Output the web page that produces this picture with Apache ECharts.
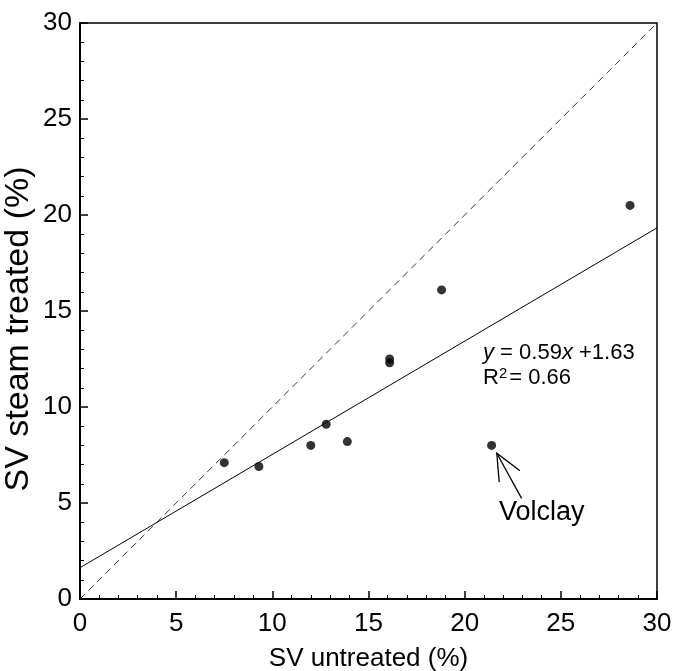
<!DOCTYPE html>
<html>
<head>
<meta charset="utf-8">
<script src="https://cdn.jsdelivr.net/npm/echarts@6/dist/echarts.min.js"></script>
<style>
  html, body { margin: 0; padding: 0; background: #fff; }
  #chart { width: 673px; height: 671px; }
</style>
</head>
<body>
<div id="chart"></div>
<script>
// measured values (SV untreated %, SV steam treated %)
var untreated = [7.5, 9.3, 12.0, 12.8, 13.9, 16.1, 16.1, 18.8, 28.6];
var steamTreated = [7.1, 6.9, 8.0, 9.1, 8.2, 12.5, 12.3, 16.1, 20.5];
var volclay = [21.4, 8.0];
var axisTicks = [0, 5, 10, 15, 20, 25, 30];
var fitSlope = 0.59;
var fitIntercept = 1.63;
// arrow pointing to Volclay: tail then tip
var arrowTail = [22.96, 5.24];
var arrowTip = [21.67, 7.59];

var font = 'Liberation Sans';

var points = untreated.map(function (x, i) { return [x, steamTreated[i]]; });
points.push(volclay);

var xMin = axisTicks[0], xMax = axisTicks[axisTicks.length - 1];
var fitLine = [[xMin, fitIntercept], [xMax, fitSlope * xMax + fitIntercept]];
var identity = [[xMin, xMin], [xMax, xMax]];

var myChart = echarts.init(document.getElementById('chart'));

function axisCommon(name) {
    return {
        type: 'value',
        min: xMin,
        max: xMax,
        interval: 5,
        name: name,
        nameLocation: 'middle',
        nameMoveOverlap: false,
        nameTextStyle: { fontFamily: font, fontSize: 26, color: '#000' },
        axisLine: { show: true, onZero: false, lineStyle: { color: '#000', width: 2 } },
        axisTick: { show: true, inside: true, length: 8, lineStyle: { color: '#000', width: 1.5 } },
        minorTick: { show: true, splitNumber: 5, length: 4, lineStyle: { color: '#000', width: 1 } },
        splitLine: { show: false },
        minorSplitLine: { show: false },
        axisLabel: { fontFamily: font, fontSize: 26, color: '#000' }
    };
}

var xAxis = axisCommon('SV untreated (%)');
xAxis.nameGap = 47;
xAxis.axisLabel.margin = 12;

var yAxis = axisCommon('SV steam treated (%)');
yAxis.nameGap = 44;
yAxis.nameTextStyle.fontSize = 34;
yAxis.nameTextStyle.padding = [0, 36, 0, 0];
yAxis.axisLabel.margin = 8;

var option = {
    animation: false,
    grid: {
        left: 80, right: 16, top: 23, bottom: 72,
        outerBoundsMode: 'none',
        containLabel: false,
        show: true, borderColor: '#000', borderWidth: 1.5, backgroundColor: 'transparent'
    },
    xAxis: xAxis,
    yAxis: yAxis,
    series: [
        {
            type: 'line',
            data: identity,
            symbol: 'none',
            lineStyle: { color: '#333', width: 1, type: [7, 5] },
            z: 1
        },
        {
            type: 'line',
            data: fitLine,
            symbol: 'none',
            lineStyle: { color: '#000', width: 1 },
            z: 1
        },
        {
            type: 'scatter',
            data: points,
            symbol: 'circle',
            symbolSize: 9,
            itemStyle: { color: '#000' },
            z: 3
        },
        {
            type: 'custom',
            data: [[arrowTail[0], arrowTail[1], arrowTip[0], arrowTip[1]]],
            renderItem: function (params, api) {
                var tail = api.coord([api.value(0), api.value(1)]);
                var tip = api.coord([api.value(2), api.value(3)]);
                var ang = Math.atan2(tail[1] - tip[1], tail[0] - tip[0]);
                var wing = 29, spread = 24 * Math.PI / 180;
                var w1 = [tip[0] + wing * Math.cos(ang - spread), tip[1] + wing * Math.sin(ang - spread)];
                var w2 = [tip[0] + wing * Math.cos(ang + spread), tip[1] + wing * Math.sin(ang + spread)];
                var st = { stroke: '#000', lineWidth: 1.3, fill: null };
                return {
                    type: 'group',
                    children: [
                        { type: 'polyline', shape: { points: [tail, tip] }, style: st },
                        { type: 'polyline', shape: { points: [w1, tip, w2] }, style: st }
                    ]
                };
            },
            z: 2
        }
    ],
    graphic: [
        {
            type: 'text',
            left: 483, top: 342,
            style: {
                text: '{i|y} = 0.59{i|x} +1.63',
                fontFamily: font, fontSize: 22, fill: '#000',
                rich: {
                    i: { fontFamily: font, fontSize: 22, fontStyle: 'italic', fill: '#000' }
                }
            }
        },
        {
            type: 'text',
            left: 483, top: 366,
            style: {
                text: 'R{sup|2}= 0.66',
                fontFamily: font, fontSize: 22, fill: '#000',
                rich: {
                    sup: { fontFamily: font, fontSize: 15, fill: '#000', verticalAlign: 'top', padding: [0, 2, 8, 0] }
                }
            }
        },
        {
            type: 'text',
            left: 499, top: 499,
            style: { text: 'Volclay', fontFamily: font, fontSize: 27, fill: '#000' }
        }
    ]
};

myChart.setOption(option);
window.onresize = myChart.resize;
</script>
</body>
</html>
